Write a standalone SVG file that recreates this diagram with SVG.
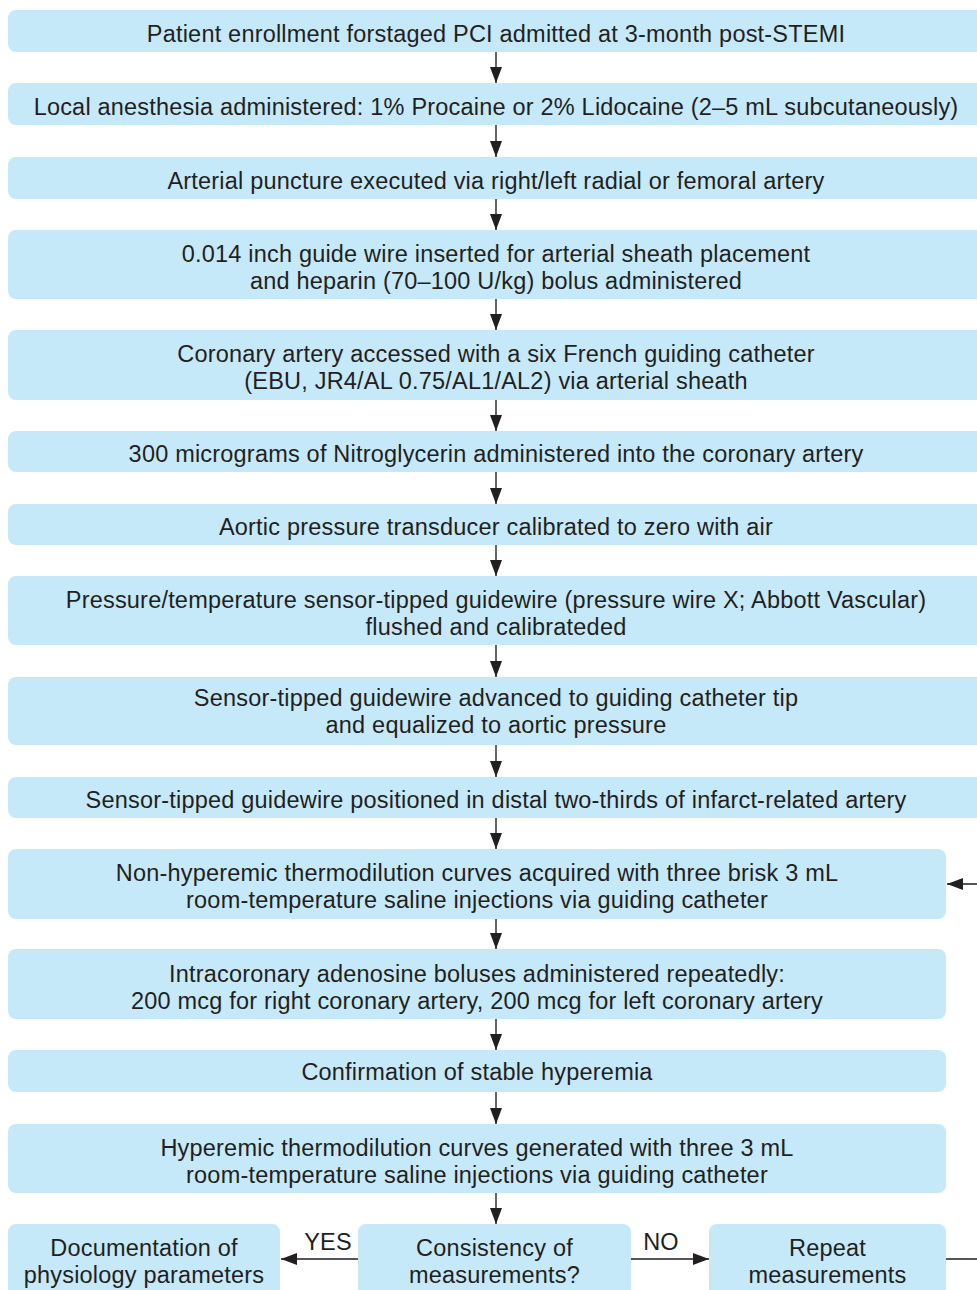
<svg xmlns="http://www.w3.org/2000/svg" width="977" height="1290" viewBox="0 0 977 1290">
<style>
.b{fill:#c6e9f9}
.t{font-family:"Liberation Sans",Arial,Helvetica,sans-serif;font-size:23.5px;letter-spacing:0.2px;fill:#231f20;text-anchor:middle}
.c{fill:none;stroke:#555;stroke-width:1.8}
</style>
<defs>
<marker id="ah" markerUnits="userSpaceOnUse" markerWidth="16" markerHeight="12" refX="16" refY="6" orient="auto">
<path d="M0,0 L16,6 L0,12 z" fill="#231f20"/>
</marker>
</defs>
<rect width="977" height="1290" fill="#fff"/>
<g id="connectors">
<path class="c" d="M496 52V83" marker-end="url(#ah)"/>
<path class="c" d="M496 125V157" marker-end="url(#ah)"/>
<path class="c" d="M496 199V230" marker-end="url(#ah)"/>
<path class="c" d="M496 299V330" marker-end="url(#ah)"/>
<path class="c" d="M496 400V431" marker-end="url(#ah)"/>
<path class="c" d="M496 472V504" marker-end="url(#ah)"/>
<path class="c" d="M496 545V576" marker-end="url(#ah)"/>
<path class="c" d="M496 645V677" marker-end="url(#ah)"/>
<path class="c" d="M496 745V777" marker-end="url(#ah)"/>
<path class="c" d="M496 818V849" marker-end="url(#ah)"/>
<path class="c" d="M496 919V949" marker-end="url(#ah)"/>
<path class="c" d="M496 1019V1050" marker-end="url(#ah)"/>
<path class="c" d="M496 1092V1124" marker-end="url(#ah)"/>
<path class="c" d="M496 1193V1224" marker-end="url(#ah)"/>
<path class="c" d="M358 1259H281" marker-end="url(#ah)"/>
<path class="c" d="M631 1259H709" marker-end="url(#ah)"/>
<path class="c" d="M946 1259H1000V884H947" marker-end="url(#ah)"/>
<text class="t" x="328" y="1250">YES</text>
<text class="t" x="661" y="1250">NO</text>
</g>
<g id="n1"><rect class="b" x="8" y="10" width="976" height="42" rx="8"/><text class="t" x="496" y="42">Patient enrollment forstaged PCI admitted at 3-month post-STEMI</text></g>
<g id="n2"><rect class="b" x="8" y="83" width="976" height="42" rx="8"/><text class="t" x="496" y="115">Local anesthesia administered: 1% Procaine or 2% Lidocaine (2–5 mL subcutaneously)</text></g>
<g id="n3"><rect class="b" x="8" y="157" width="976" height="42" rx="8"/><text class="t" x="496" y="189">Arterial puncture executed via right/left radial or femoral artery</text></g>
<g id="n4"><rect class="b" x="8" y="230" width="976" height="69" rx="8"/><text class="t" x="496" y="262">0.014 inch guide wire inserted for arterial sheath placement</text><text class="t" x="496" y="289">and heparin (70–100 U/kg) bolus administered</text></g>
<g id="n5"><rect class="b" x="8" y="330" width="976" height="70" rx="8"/><text class="t" x="496" y="362">Coronary artery accessed with a six French guiding catheter</text><text class="t" x="496" y="389">(EBU, JR4/AL 0.75/AL1/AL2) via arterial sheath</text></g>
<g id="n6"><rect class="b" x="8" y="431" width="976" height="41" rx="8"/><text class="t" x="496" y="462">300 micrograms of Nitroglycerin administered into the coronary artery</text></g>
<g id="n7"><rect class="b" x="8" y="504" width="976" height="41" rx="8"/><text class="t" x="496" y="535">Aortic pressure transducer calibrated to zero with air</text></g>
<g id="n8"><rect class="b" x="8" y="576" width="976" height="69" rx="8"/><text class="t" x="496" y="608">Pressure/temperature sensor-tipped guidewire (pressure wire X; Abbott Vascular)</text><text class="t" x="496" y="635">flushed and calibrateded</text></g>
<g id="n9"><rect class="b" x="8" y="677" width="976" height="68" rx="8"/><text class="t" x="496" y="706">Sensor-tipped guidewire advanced to guiding catheter tip</text><text class="t" x="496" y="733">and equalized to aortic pressure</text></g>
<g id="n10"><rect class="b" x="8" y="777" width="976" height="41" rx="8"/><text class="t" x="496" y="808">Sensor-tipped guidewire positioned in distal two-thirds of infarct-related artery</text></g>
<g id="n11"><rect class="b" x="8" y="849" width="938" height="70" rx="8"/><text class="t" x="477" y="881">Non-hyperemic thermodilution curves acquired with three brisk 3 mL</text><text class="t" x="477" y="908">room-temperature saline injections via guiding catheter</text></g>
<g id="n12"><rect class="b" x="8" y="949" width="938" height="70" rx="8"/><text class="t" x="477" y="982">Intracoronary adenosine boluses administered repeatedly:</text><text class="t" x="477" y="1009">200 mcg for right coronary artery, 200 mcg for left coronary artery</text></g>
<g id="n13"><rect class="b" x="8" y="1050" width="938" height="42" rx="8"/><text class="t" x="477" y="1080">Confirmation of stable hyperemia</text></g>
<g id="n14"><rect class="b" x="8" y="1124" width="938" height="69" rx="8"/><text class="t" x="477" y="1156">Hyperemic thermodilution curves generated with three 3 mL</text><text class="t" x="477" y="1183">room-temperature saline injections via guiding catheter</text></g>
<g id="n15"><rect class="b" x="8" y="1224" width="272" height="80" rx="8"/><text class="t" x="144" y="1256">Documentation of</text><text class="t" x="144" y="1283">physiology parameters</text></g>
<g id="n16"><rect class="b" x="358" y="1224" width="273" height="80" rx="8"/><text class="t" x="494.5" y="1256">Consistency of</text><text class="t" x="494.5" y="1283">measurements?</text></g>
<g id="n17"><rect class="b" x="709" y="1224" width="237" height="80" rx="8"/><text class="t" x="827.5" y="1256">Repeat</text><text class="t" x="827.5" y="1283">measurements</text></g>
</svg>
